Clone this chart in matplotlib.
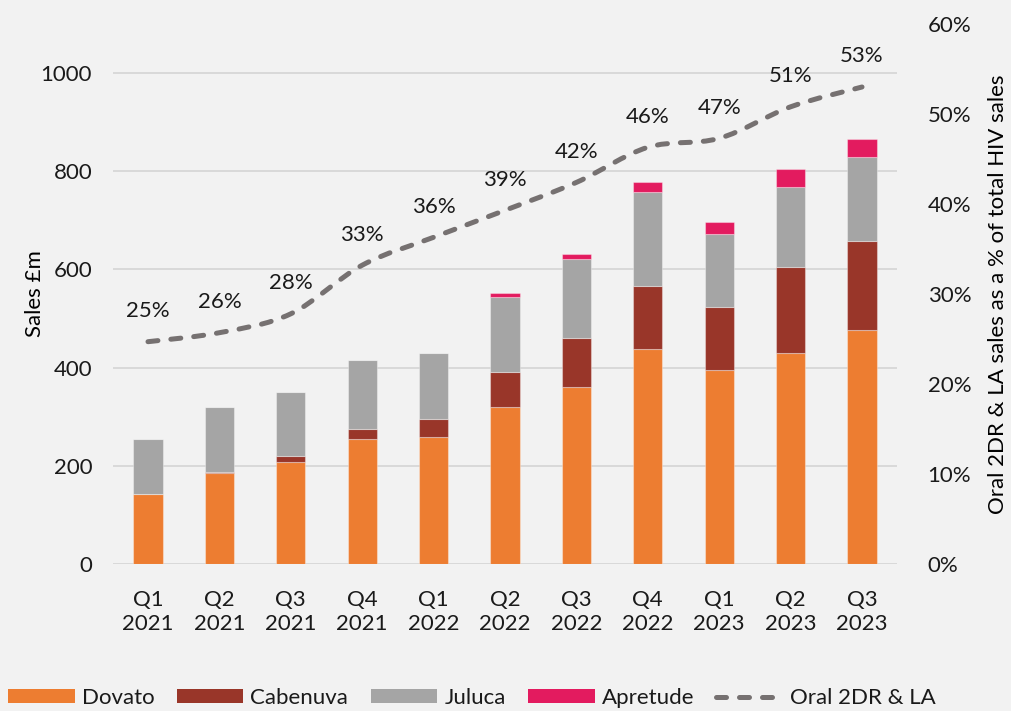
import matplotlib

matplotlib.use("Agg")
import matplotlib.pyplot as plt
import numpy as np
from matplotlib.lines import Line2D
from matplotlib.patches import PathPatch, Patch
from matplotlib.path import Path
from matplotlib.ticker import FuncFormatter

# data (sales in GBP m, share as fraction)
quarters = ["Q1\n2021", "Q2\n2021", "Q3\n2021", "Q4\n2021", "Q1\n2022", "Q2\n2022",
            "Q3\n2022", "Q4\n2022", "Q1\n2023", "Q2\n2023", "Q3\n2023"]
dovato = [143, 185, 208, 254, 258, 320, 360, 438, 396, 430, 477]
cabenuva = [0, 2, 12, 20, 37, 72, 101, 129, 127, 175, 181]
juluca = [112, 133, 130, 142, 134, 152, 160, 191, 149, 163, 172]
apretude = [0, 0, 0, 0, 1, 8, 10, 21, 25, 37, 36]
oral_share = [0.247, 0.257, 0.278, 0.332, 0.363, 0.393, 0.424, 0.463, 0.473, 0.508, 0.530]
share_labels = ["25%", "26%", "28%", "33%", "36%", "39%", "42%", "46%", "47%", "51%", "53%"]

BG = "#F2F2F2"
C_DOV = "#ED7D31"
C_CAB = "#993629"
C_JUL = "#A5A5A5"
C_APR = "#E31B5F"
C_LINE = "#767171"
FONT = "Lato"
FS = 16

plt.rcParams.update({"font.family": FONT, "font.size": FS, "text.color": "#1A1A1A",
                     "xtick.color": "#1A1A1A", "ytick.color": "#1A1A1A"})


def smooth_path(xs, ys, t=1 / 6):
    # Excel-style smoothed line as cubic bezier segments
    pts = np.column_stack([xs, ys]).astype(float)
    n = len(pts)
    verts = [pts[0]]
    codes = [Path.MOVETO]
    for i in range(n - 1):
        p0 = pts[max(i - 1, 0)]
        p1 = pts[i]
        p2 = pts[i + 1]
        p3 = pts[min(i + 2, n - 1)]
        c1 = p1 + (p2 - p0) * t
        c2 = p2 - (p3 - p1) * t
        verts += [c1, c2, p2]
        codes += [Path.CURVE4] * 3
    return Path(verts, codes)


fig = plt.figure(figsize=(10.12, 7.11), dpi=100, facecolor=BG)
ax = fig.add_axes([113 / 1012, 1 - 564 / 711, 784 / 1012, 540 / 711])
ax.set_facecolor(BG)
ax2 = ax.twinx()

x = np.arange(len(quarters))
w = 0.41
edge = (1, 1, 1, 0.35)
b0 = np.zeros(len(x))
for vals, col in [(dovato, C_DOV), (cabenuva, C_CAB), (juluca, C_JUL), (apretude, C_APR)]:
    ax.bar(x, vals, w, bottom=b0, color=col, edgecolor=edge, linewidth=0.8, zorder=3)
    b0 = b0 + np.array(vals)

ax.set_ylim(0, 1100)
ax.set_yticks([0, 200, 400, 600, 800, 1000])
ax.set_xlim(-0.49, len(x) - 0.51)
ax.set_xticks(x)
ax.set_xticklabels(quarters, linespacing=1.25)
ax.yaxis.grid(True, color="#D9D9D9", lw=1.4, zorder=0)
ax.set_axisbelow(True)
ax.tick_params(axis="both", length=0)
ax.tick_params(axis="y", pad=15)
ax.tick_params(axis="x", pad=19)
for s in ax.spines.values():
    s.set_visible(False)
ax.set_ylabel("Sales £m", fontsize=FS)
ax.yaxis.set_label_coords(-0.087, 0.5)

ax2.set_ylim(0, 0.6)
ax2.set_yticks(np.arange(0, 0.61, 0.1))
ax2.yaxis.set_major_formatter(FuncFormatter(lambda v, _: f"{v * 100:.0f}%"))
ax2.tick_params(axis="y", length=0, pad=22)
for s in ax2.spines.values():
    s.set_visible(False)
ax2.set_ylabel("Oral 2DR & LA sales as a % of total HIV sales", fontsize=FS)
ax2.yaxis.set_label_coords(1.116, 0.5)

dash = (0, (2.0, 2.6))
patch = PathPatch(smooth_path(x, oral_share), transform=ax2.transData, fill=False,
                  edgecolor=C_LINE, lw=3.6, linestyle=dash, capstyle="round", zorder=4)
ax2.add_patch(patch)
for xi, yi, lab in zip(x, oral_share, share_labels):
    ax2.annotate(lab, (xi, yi), xytext=(0, 22), textcoords="offset points",
                 ha="center", va="center", fontsize=FS)

handles = [Patch(facecolor=C_DOV), Patch(facecolor=C_CAB), Patch(facecolor=C_JUL),
           Patch(facecolor=C_APR),
           Line2D([], [], color=C_LINE, lw=3.6, linestyle=dash, dash_capstyle="round")]
labels = ["Dovato", "Cabenuva", "Juluca", "Apretude", "Oral 2DR & LA"]
fig.legend(handles, labels, loc="center left", bbox_to_anchor=(0.008, 0.018), ncol=5,
           frameon=False, fontsize=FS, handlelength=3.0, handleheight=0.6,
           handletextpad=0.32, columnspacing=1.0, borderpad=0, borderaxespad=0)

fig.savefig("out.png", dpi=100, facecolor=BG)
